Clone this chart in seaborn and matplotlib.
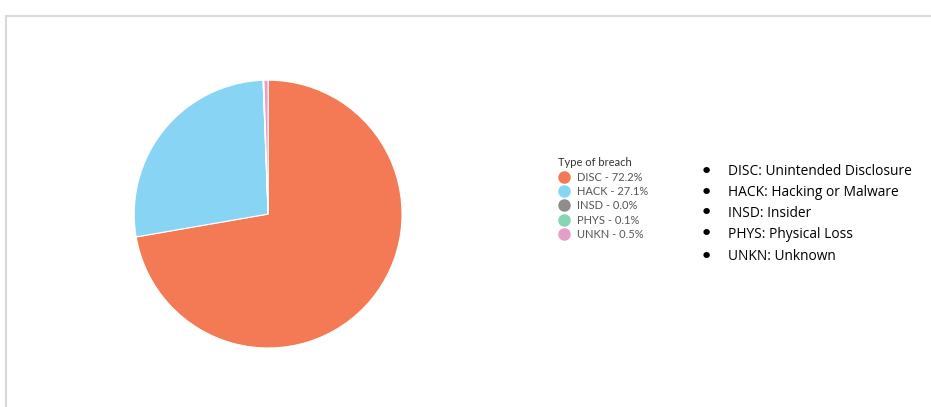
import matplotlib.pyplot as plt
import seaborn as sns
from matplotlib.lines import Line2D

sns.set_theme(style="white")
plt.rcParams['font.family'] = ['Lato', 'DejaVu Sans']

# 데이터
breach_types = ['DISC', 'HACK', 'INSD', 'PHYS', 'UNKN']
shares = [72.2, 27.1, 0.0, 0.1, 0.5]
colors = ['#F37A54', '#88D4F5', '#8E8E8E', '#86D5B4', '#E59DC9']
descriptions = ['DISC: Unintended Disclosure', 'HACK: Hacking or Malware',
                'INSD: Insider', 'PHYS: Physical Loss', 'UNKN: Unknown']

palette = sns.color_palette(colors)

fig = plt.figure(figsize=(9.31, 4.07), dpi=100)

# 파이 차트
ax = fig.add_axes([0.144, 0.145, 0.288, 0.658])
ax.pie(shares, colors=palette, startangle=90, counterclock=False,
       wedgeprops=dict(edgecolor='white', linewidth=0.8))
ax.set_xlim(-1, 1)
ax.set_ylim(-1, 1)
ax.set_aspect('equal')

# 범례
handles = [Line2D([], [], marker='o', linestyle='', markersize=8,
                  markerfacecolor=c, markeredgecolor=c) for c in palette]
labels = [f'{t} - {v:.1f}%' for t, v in zip(breach_types, shares)]
leg = fig.legend(handles, labels, title='Type of breach', loc='upper left',
                 bbox_to_anchor=(0.593, 0.627), frameon=False, fontsize=8,
                 title_fontsize=8, handletextpad=0.5, labelspacing=0.3,
                 borderpad=0, handlelength=1.2, alignment='left')
for t in leg.get_texts():
    t.set_color('#555555')
leg.get_title().set_color('#333333')

# 설명 목록
ys = [172, 193, 213, 234, 257]
for y, d in zip(ys, descriptions):
    fy = 1 - y / 407
    fig.text(706 / 931, fy, '•', fontsize=16, va='center', ha='center',
             family=['DejaVu Sans'], color='black')
    fig.text(728 / 931, fy, d, fontsize=9.9, va='center', ha='left',
             family=['Open Sans', 'DejaVu Sans'], color='black')

# 테두리
fig.add_artist(Line2D([5.5 / 931, 1], [1 - 16 / 407, 1 - 16 / 407],
                      transform=fig.transFigure, color='#d9d9d9', linewidth=1.5))
fig.add_artist(Line2D([5.5 / 931, 5.5 / 931], [0, 1 - 16 / 407],
                      transform=fig.transFigure, color='#d9d9d9', linewidth=1.5))

fig.savefig('out.png', dpi=100)
